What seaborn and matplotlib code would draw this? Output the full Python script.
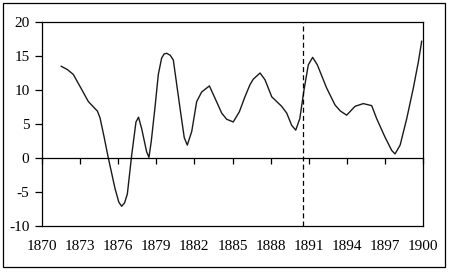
import matplotlib
matplotlib.use("Agg")
import matplotlib.pyplot as plt
import seaborn as sns
import pandas as pd
from matplotlib.patches import Rectangle

years = [1871.5, 1872.0, 1872.46, 1873.0, 1873.65, 1874.36, 1874.57, 1874.9, 1875.2,
         1875.75, 1876.05, 1876.27, 1876.5, 1876.72, 1877.06, 1877.4, 1877.6, 1877.85,
         1878.24, 1878.42, 1878.6, 1878.9, 1879.16, 1879.42, 1879.62, 1879.82, 1880.1, 1880.34,
         1880.87, 1881.2, 1881.44, 1881.79, 1882.18, 1882.57, 1883.18, 1883.62, 1884.15,
         1884.54, 1885.06, 1885.54, 1885.98, 1886.38, 1886.64, 1887.17, 1887.56, 1888.09,
         1888.87, 1889.27, 1889.66, 1889.98, 1890.3, 1890.63, 1890.97, 1891.31, 1891.68,
         1892.41, 1893.07, 1893.5, 1893.99, 1894.65, 1895.3, 1895.96, 1896.35, 1897.0,
         1897.54, 1897.8, 1898.2, 1898.72, 1899.24, 1899.64, 1899.9]
values = [13.5, 13.0, 12.3, 10.5, 8.3, 6.9, 5.9, 3.0, 0.2,
          -4.5, -6.5, -7.1, -6.6, -5.3, 0.4, 5.3, 6.0, 4.3,
          0.9, 0.1, 2.4, 7.5, 12.3, 14.7, 15.3, 15.4, 15.1, 14.4,
          7.3, 3.0, 1.9, 3.9, 8.3, 9.7, 10.6, 8.8, 6.6,
          5.7, 5.3, 6.8, 9.0, 10.8, 11.6, 12.5, 11.5, 9.0,
          7.6, 6.6, 4.8, 4.1, 5.8, 10.0, 13.7, 14.8, 13.7,
          10.3, 7.8, 6.9, 6.3, 7.6, 8.0, 7.7, 5.8, 3.1,
          1.1, 0.6, 1.9, 5.8, 10.3, 14.2, 17.2]
x_ticks = [1870, 1873, 1876, 1879, 1882, 1885, 1888, 1891, 1894, 1897, 1900]
y_ticks = [-10, -5, 0, 5, 10, 15, 20]
marker_year = 1890.55

sns.set_style("ticks")
plt.rcParams['font.family'] = ['Liberation Serif', 'DejaVu Serif']
plt.rcParams['font.size'] = 11
plt.rcParams['axes.unicode_minus'] = False

df = pd.DataFrame({"year": years, "value": values})

fig = plt.figure(figsize=(4.5, 2.74), dpi=100)
ax = fig.add_axes([42/450, 1-226/274, (423-42)/450, (226-22)/274])

sns.lineplot(data=df, x="year", y="value", ax=ax, color="#1a1a1a", linewidth=1.0,
             estimator=None)
ax.axvline(marker_year, color="black", linewidth=0.9, linestyle=(0, (4, 2.5)))

ax.set_xlim(1870, 1900)
ax.set_ylim(-10, 20)
ax.set_yticks(y_ticks)
ax.set_xticks(x_ticks)
ax.set_xlabel("")
ax.set_ylabel("")

for s in ax.spines.values():
    s.set_linewidth(0.9)
    s.set_color("black")
ax.spines['bottom'].set_position(('data', 0))
ax.tick_params(axis='x', direction='out', length=4.5, width=0.9, labelbottom=False,
               color="black")
ax.tick_params(axis='y', direction='out', length=5, width=0.9, pad=4, colors="black",
               labelsize=11)

sec = ax.secondary_xaxis(0)
sec.set_xticks(x_ticks)
sec.set_xticklabels([str(t) for t in x_ticks])
sec.tick_params(axis='x', length=0, pad=10, labelsize=11, colors="black")
sec.spines['bottom'].set_linewidth(0.9)
sec.spines['bottom'].set_color("black")

fig.patches.append(Rectangle((3/450, 1-267/274), (445-3)/450, (267-3)/274,
                             transform=fig.transFigure, fill=False,
                             edgecolor="black", linewidth=0.9))

fig.savefig("out.png", dpi=100)
